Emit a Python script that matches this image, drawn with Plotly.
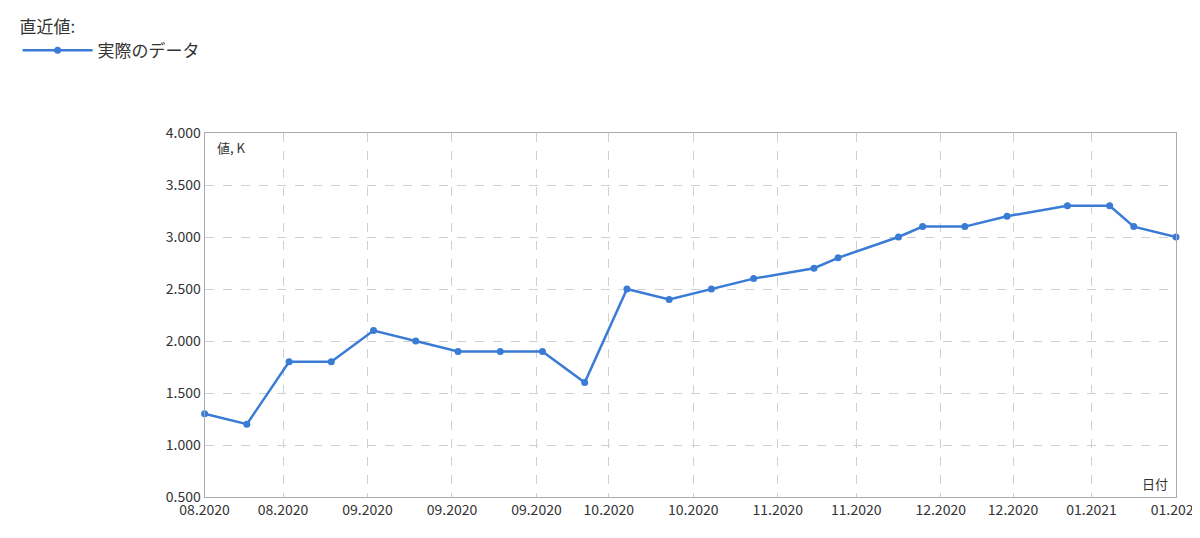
import plotly.graph_objects as go

# 実際のデータ (週次, 千単位)
dates = ["2020-08-03", "2020-08-10", "2020-08-17", "2020-08-24", "2020-08-31",
         "2020-09-07", "2020-09-14", "2020-09-21", "2020-09-28", "2020-10-05",
         "2020-10-12", "2020-10-19", "2020-10-26", "2020-11-02", "2020-11-12",
         "2020-11-16", "2020-11-26", "2020-11-30", "2020-12-07", "2020-12-14",
         "2020-12-24", "2020-12-31", "2021-01-04", "2021-01-11"]
values = [1.3, 1.2, 1.8, 1.8, 2.1, 2.0, 1.9, 1.9, 1.9, 1.6, 2.5, 2.4,
          2.5, 2.6, 2.7, 2.8, 3.0, 3.1, 3.1, 3.2, 3.3, 3.3, 3.1, 3.0]

tick_dates = ["2020-08-03", "2020-08-16", "2020-08-30", "2020-09-13", "2020-09-27",
              "2020-10-09", "2020-10-23", "2020-11-06", "2020-11-19", "2020-12-03",
              "2020-12-15", "2020-12-28", "2021-01-11"]
tick_labels = ["08.2020", "08.2020", "09.2020", "09.2020", "09.2020", "10.2020",
               "10.2020", "11.2020", "11.2020", "12.2020", "12.2020", "01.2021", "01.2021"]
y_ticks = [0.5, 1.0, 1.5, 2.0, 2.5, 3.0, 3.5, 4.0]
y_labels = ["0.500", "1.000", "1.500", "2.000", "2.500", "3.000", "3.500", "4.000"]

font = "Noto Sans CJK JP"
blue = "#3a7bd5"

fig = go.Figure()
fig.add_trace(go.Scatter(
    x=dates, y=values, mode="lines+markers", name="実際のデータ",
    line=dict(color=blue, width=2.5), marker=dict(size=7, color=blue),
    cliponaxis=False
))

grid = dict(showgrid=True, gridcolor="#d0d0d0", griddash="dash", gridwidth=1,
            showline=True, linecolor="#aaaaaa", mirror=True, zeroline=False,
            ticks="", tickfont=dict(size=14, color="#333"), automargin=False)

fig.update_layout(
    width=1200, height=538,
    plot_bgcolor="white", paper_bgcolor="white",
    font=dict(family=font, color="#333"),
    margin=dict(l=75, r=32, t=125, b=49),
    showlegend=True,
    legend=dict(x=0.008, y=0.995, xref="container", yref="container",
                xanchor="left", yanchor="top",
                title=dict(text="直近値:", side="top", font=dict(size=17)),
                font=dict(size=17), itemwidth=70),
    xaxis=dict(range=["2020-08-03", "2021-01-11"], tickvals=tick_dates,
               ticktext=tick_labels, **grid),
    yaxis=dict(range=[0.5, 4.0], tickvals=y_ticks, ticktext=y_labels, **grid),
    annotations=[
        dict(text="値, K", x=0, y=1, xref="paper", yref="paper", xanchor="left",
             yanchor="top", xshift=10, yshift=-3, showarrow=False, font=dict(size=13)),
        dict(text="日付", x=1, y=0, xref="paper", yref="paper", xanchor="right",
             yanchor="bottom", xshift=-6, yshift=2, showarrow=False, font=dict(size=13)),
    ],
)

fig.write_html("out.html")
